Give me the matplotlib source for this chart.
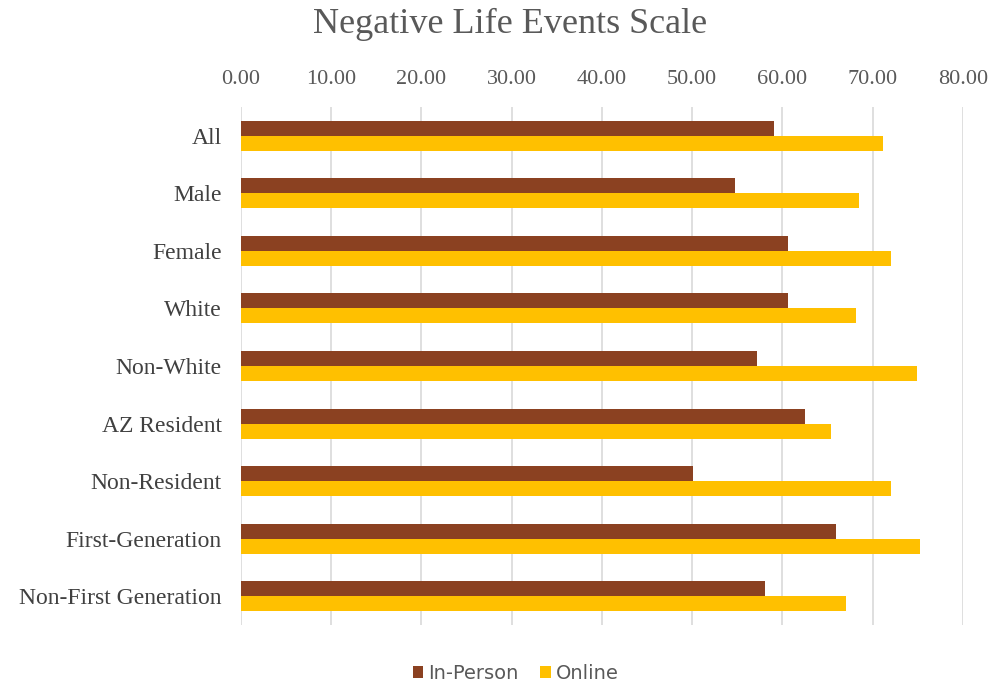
import numpy as np
import matplotlib.pyplot as plt

groups = ["All", "Male", "Female", "White", "Non-White", "AZ Resident",
          "Non-Resident", "First-Generation", "Non-First Generation"]
in_person = [59.1, 54.7, 60.6, 60.6, 57.2, 62.5, 50.1, 65.9, 58.1]
online = [71.1, 68.5, 72.0, 68.2, 74.9, 65.4, 72.0, 75.2, 67.0]
xticks = [0, 10, 20, 30, 40, 50, 60, 70, 80]

fig = plt.figure(figsize=(10.05, 6.98), dpi=100)
ax = fig.add_axes([0.2398, 0.1046, 0.7184, 0.7421])

y = np.arange(len(groups))
h = 0.26
ax.barh(y - h / 2, in_person, height=h, color="#8B4121", label="In-Person", zorder=3)
ax.barh(y + h / 2, online, height=h, color="#FFC000", label="Online", zorder=3)

ax.set_ylim(len(groups) - 0.5, -0.5)
ax.set_xlim(0, 80)
ax.set_yticks(y)
ax.set_yticklabels(groups, fontsize=17, family="Liberation Serif", color="#404040")
ax.set_xticks(xticks)
ax.set_xticklabels([f"{v:.2f}" for v in xticks], fontsize=16,
                   family="Liberation Serif", color="#595959")
ax.xaxis.tick_top()
ax.tick_params(axis="both", length=0)
ax.tick_params(axis="x", pad=13)
ax.tick_params(axis="y", pad=14)
ax.grid(axis="x", color="#D9D9D9", linewidth=1.2, zorder=0)
for s in ax.spines.values():
    s.set_visible(False)

fig.text(0.508, 0.965, "Negative Life Events Scale", ha="center", va="center",
         fontsize=26, family="Liberation Serif", color="#595959")

fig.legend(loc="center", bbox_to_anchor=(0.513, 0.035), ncol=2, frameon=False,
           fontsize=14, handlelength=0.55, handleheight=0.55, columnspacing=1.1,
           handletextpad=0.25, labelcolor="#595959")

fig.savefig("out.png", dpi=100)
